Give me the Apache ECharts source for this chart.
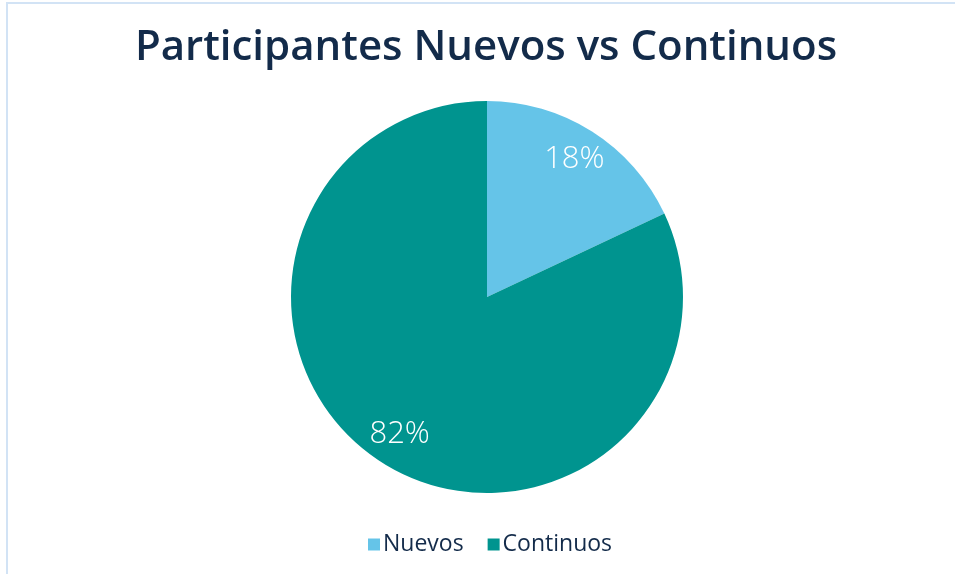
<!DOCTYPE html>
<html>
<head>
<meta charset="utf-8">
<script src="https://cdn.jsdelivr.net/npm/echarts@6/dist/echarts.min.js"></script>
<style>
html,body{margin:0;padding:0;background:#fff;}
#frame{position:absolute;left:6px;top:2px;width:960px;height:580px;border-left:2px solid #d2e3f5;border-top:2px solid #d2e3f5;}
#main{position:absolute;left:0;top:0;width:955px;height:574px;}
</style>
</head>
<body>
<div id="frame"></div>
<div id="main"></div>
<script>
const titleText = 'Participantes Nuevos vs Continuos';
const categories = ['Nuevos', 'Continuos'];
const values = [18, 82];
const colors = ['#65C4E8', '#00948F'];

const chart = echarts.init(document.getElementById('main'));
const pieData = categories.map((c, i) => ({ name: c, value: values[i], itemStyle: { color: colors[i] } }));

chart.setOption({
  animation: false,
  title: {
    text: titleText,
    left: 481,
    textAlign: 'center',
    top: 22,
    textStyle: { fontFamily: 'Open Sans', fontSize: 42, fontWeight: 600, color: '#132B4A' }
  },
  legend: {
    data: categories,
    bottom: 13,
    left: 363,
    icon: 'rect',
    itemWidth: 12,
    itemHeight: 12,
    itemGap: 24,
    textStyle: { fontFamily: 'Open Sans', fontSize: 23, color: '#132B4A', padding: [0, 0, 0, -2] }
  },
  series: [
    {
      type: 'pie',
      center: [487, 297],
      radius: [0, 196],
      startAngle: 90,
      clockwise: true,
      label: { show: false },
      labelLine: { show: false },
      silent: true,
      data: pieData
    },
    {
      type: 'pie',
      center: [487, 297],
      radius: [124, 196],
      startAngle: 90,
      clockwise: true,
      silent: true,
      legendHoverLink: false,
      itemStyle: { color: 'transparent' },
      label: {
        show: true,
        position: 'inside',
        formatter: '{c}%',
        fontFamily: 'Open Sans',
        fontSize: 31,
        fontWeight: 300,
        color: '#ffffff'
      },
      labelLine: { show: false },
      data: categories.map((c, i) => ({ name: c + '_lbl', value: values[i] }))
    }
  ]
});
</script>
</body>
</html>
